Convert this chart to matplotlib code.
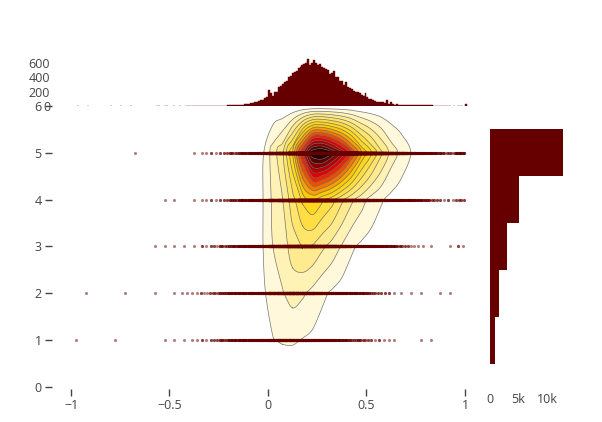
import numpy as np
import matplotlib.pyplot as plt
from matplotlib.colors import LinearSegmentedColormap
from matplotlib.path import Path
from matplotlib.patches import PathPatch

plt.rcParams['font.family'] = ['Open Sans', 'DejaVu Sans']

dark_red = '#660000'
text_color = '#444444'

# rating levels (y) and, per rating, counts of x values in 0.05-wide bins from -1 to 1
ratings = [1, 2, 3, 4, 5]
row_bin_width = 0.05
row_1 = [1, 0, 0, 0, 1, 0, 0, 0, 0, 1, 1, 1, 2, 3, 6, 12, 20, 30, 45, 60,
         95, 110, 112, 95, 80, 54, 35, 22, 12, 10, 5, 3, 2, 0, 0, 1, 1, 0, 0, 0]
row_2 = [0, 1, 0, 0, 0, 1, 0, 0, 1, 0, 1, 2, 2, 4, 8, 14, 22, 30, 50, 80,
         160, 195, 240, 215, 170, 120, 85, 55, 32, 20, 12, 6, 3, 1, 1, 1, 0, 1, 1, 0]
row_3 = [0, 0, 0, 0, 0, 0, 0, 0, 1, 1, 1, 1, 1, 3, 5, 10, 18, 32, 60, 100,
         200, 250, 350, 405, 391, 320, 260, 190, 115, 80, 60, 35, 20, 10, 4, 2, 1, 0, 1, 3]
row_4 = [0, 0, 0, 0, 0, 0, 0, 0, 0, 1, 1, 0, 1, 2, 3, 6, 12, 25, 50, 100,
         220, 300, 460, 620, 700, 620, 540, 420, 320, 240, 160, 110, 70, 45, 30, 18, 10, 5, 3, 8]
row_5 = [0, 0, 0, 0, 0, 0, 1, 0, 0, 0, 0, 0, 1, 2, 3, 6, 10, 20, 40, 90,
         250, 380, 700, 1220, 1700, 1750, 1600, 1387, 1100, 800, 600, 420, 260, 170, 100, 50, 30, 15, 8, 25]

# top marginal histogram: counts in 0.01-wide bins starting at -1.00
x_hist_width = 0.01
x_hist_counts = [
    0, 0, 0, 1, 0, 0, 0, 0, 1, 0,
    0, 0, 0, 0, 0, 0, 0, 0, 0, 0,
    1, 0, 0, 0, 0, 1, 0, 0, 0, 0,
    1, 0, 0, 0, 0, 0, 0, 0, 0, 0,
    0, 0, 0, 1, 1, 0, 0, 1, 1, 0,
    0, 0, 1, 0, 0, 1, 0, 0, 1, 1,
    1, 2, 1, 1, 2, 1, 2, 2, 3, 2,
    3, 2, 4, 3, 4, 5, 4, 6, 5, 7,
    9, 9, 10, 11, 12, 14, 16, 20, 23, 26,
    32, 40, 46, 55, 62, 75, 78, 82, 106, 124,
    216, 175, 138, 198, 190, 262, 270, 300, 336, 350,
    405, 420, 450, 470, 483, 520, 543, 560, 575, 600,
    644, 561, 600, 630, 590, 561, 575, 540, 529, 506,
    500, 437, 450, 483, 405, 400, 345, 340, 290, 331,
    262, 250, 239, 210, 198, 190, 184, 150, 138, 184,
    120, 101, 95, 78, 74, 62, 60, 58, 50, 37,
    83, 32, 55, 22, 14, 32, 14, 15, 14, 18,
    12, 9, 8, 9, 18, 16, 9, 8, 10, 9,
    8, 9, 7, 8, 5, 5, 3, 2, 2, 1,
    2, 1, 1, 0, 1, 0, 1, 1, 1, 0,
    23]

rows = np.array([row_1, row_2, row_3, row_4, row_5])
row_edges = -1.0 + row_bin_width * np.arange(rows.shape[1] + 1)
row_centers = (row_edges[:-1] + row_edges[1:]) / 2

# points of the scatter; values inside a bin sit on a few repeated positions
pts_x, pts_y = [], []
for r, counts in zip(ratings, rows):
    for left, c in zip(row_edges[:-1], counts):
        if c > 0:
            n_pos = int(np.ceil(c ** 0.6))
            pts_x.append(left + row_bin_width * (np.arange(c) % n_pos + 0.5) / n_pos)
            pts_y.append(np.full(c, r))
pts_x = np.concatenate(pts_x)
pts_y = np.concatenate(pts_y)

# 2d histogram grid, empty rows at 0 and 6
Z = np.zeros((7, rows.shape[1]))
Z[1:6] = rows
grid_y = np.arange(7)

# plotly "Hot", reversed
hot_r = LinearSegmentedColormap.from_list(
    'hot_r', [(0, (1, 1, 1)), (0.4, (1, 210 / 255, 0)), (0.7, (230 / 255, 0, 0)), (1, (0, 0, 0))])
step = 100
levels = np.arange(step, Z.max(), step)
n = len(levels)
fill_colors = [hot_r(k / n) for k in range(1, n + 1)]


def split_loops(path):
    v, c = path.vertices, path.codes
    if c is None:
        return [v]
    starts = np.flatnonzero(c == Path.MOVETO)
    ends = list(starts[1:]) + [len(v)]
    return [v[s:e][c[s:e] != Path.CLOSEPOLY] for s, e in zip(starts, ends)]


def smooth_loop(p, k=8):
    # closed Catmull-Rom spline through the marching-squares points
    if len(p) > 1 and np.allclose(p[0], p[-1]):
        p = p[:-1]
    keep = np.r_[True, np.any(np.abs(np.diff(p, axis=0)) > 1e-9, axis=1)]
    p = p[keep]
    if len(p) < 4:
        return np.vstack([p, p[:1]])
    p0, p1, p2, p3 = np.roll(p, 1, axis=0), p, np.roll(p, -1, axis=0), np.roll(p, -2, axis=0)
    t = np.linspace(0, 1, k, endpoint=False)[:, None, None]
    pts = 0.5 * (2 * p1 + (p2 - p0) * t + (2 * p0 - 5 * p1 + 4 * p2 - p3) * t ** 2
                 + (3 * p1 - p0 - 3 * p2 + p3) * t ** 3)
    pts = pts.transpose(1, 0, 2).reshape(-1, 2)
    return np.vstack([pts, pts[:1]])


def smooth_path(path):
    verts, codes = [], []
    for loop in split_loops(path):
        if len(loop) < 2:
            continue
        s = smooth_loop(loop)
        verts.append(s)
        codes += [Path.MOVETO] + [Path.LINETO] * (len(s) - 2) + [Path.CLOSEPOLY]
    if not verts:
        return None
    return Path(np.vstack(verts), codes)


W, H = 602, 422
fig = plt.figure(figsize=(W / 100, H / 100), dpi=100)


def px_axes(left, top, right, bottom):
    return fig.add_axes([left / W, 1 - bottom / H, (right - left) / W, (bottom - top) / H])


ax = px_axes(51.5, 106, 471, 389)
ax_top = px_axes(51.5, 57, 471, 106)
ax_right = px_axes(490, 106, 566.4, 389)

xlim = (-1.099, 1.0305)
ylim = (-0.043, 6.0)

# filled contours and lines, smoothed like plotly's contour paths
cf = ax.contourf(row_centers, grid_y, Z, levels=list(levels) + [Z.max() + 1])
fill_paths = cf.get_paths()
cf.remove()
for path, col in zip(fill_paths, fill_colors):
    sp = smooth_path(path)
    if sp is not None:
        ax.add_patch(PathPatch(sp, facecolor=col, edgecolor='none', zorder=1))
cl = ax.contour(row_centers, grid_y, Z, levels=levels)
line_paths = cl.get_paths()
cl.remove()
for path in line_paths:
    for loop in split_loops(path):
        if len(loop) < 2:
            continue
        s = smooth_loop(loop)
        ax.plot(s[:, 0], s[:, 1], color='#555555', linewidth=0.5, alpha=0.8, zorder=2)

ax.scatter(pts_x, pts_y, s=5, color=dark_red, alpha=0.5, linewidths=0, zorder=3)

ax.set_xlim(xlim)
ax.set_ylim(ylim)
ax.set_xticks([-1, -0.5, 0, 0.5, 1])
ax.set_xticklabels(['\u22121', '\u22120.5', '0', '0.5', '1'])
ax.set_yticks(range(7))
ax.tick_params(length=5, width=1, color=text_color, labelcolor=text_color, labelsize=9, pad=2)
for s in ax.spines.values():
    s.set_visible(False)

# top histogram
x_hist_counts = np.array(x_hist_counts)
x_left = -1.0 + x_hist_width * np.arange(len(x_hist_counts))
nz = x_hist_counts > 0
ax_top.bar(x_left[nz], x_hist_counts[nz], width=x_hist_width, align='edge',
           color=dark_red, edgecolor=dark_red, linewidth=0.3)
ax_top.set_xlim(xlim)
ax_top.set_ylim(0, 676)
ax_top.set_xticks([])
ax_top.set_yticks([0, 200, 400, 600])
ax_top.tick_params(length=0, labelcolor=text_color, labelsize=9, pad=1)
for s in ax_top.spines.values():
    s.set_visible(False)
ax_top.patch.set_alpha(0)

# right histogram
ax_right.barh(ratings, rows.sum(axis=1), height=1.0, color=dark_red, linewidth=0)
ax_right.set_ylim(ylim)
ax_right.set_xlim(0, 13400)
ax_right.set_xticks([0, 5000, 10000])
ax_right.set_xticklabels(['0', '5k', '10k'])
ax_right.set_yticks([])
ax_right.tick_params(length=0, labelcolor=text_color, labelsize=9, pad=3)
for s in ax_right.spines.values():
    s.set_visible(False)

fig.savefig('out.png', dpi=100)
